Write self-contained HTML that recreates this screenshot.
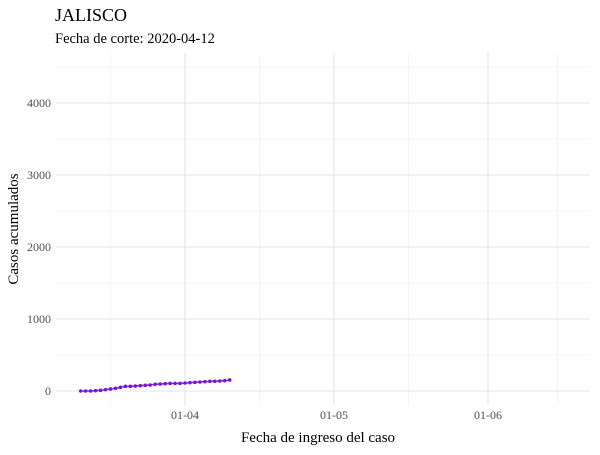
<!DOCTYPE html>
<html><head><meta charset="utf-8"><style>
body{margin:0;background:#fff;}
svg text{font-family:"Liberation Serif",serif;}
</style></head><body>
<svg width="600" height="450" xmlns="http://www.w3.org/2000/svg">
<text x="55" y="21" font-size="18" fill="#000">JALISCO</text>
<text x="55" y="43" font-size="14.5" fill="#000">Fecha de corte: 2020-04-12</text>
<g id="grid"></g>
<g id="yticks"></g>
<g id="xticks"></g>
<g id="series"></g>
<text x="318" y="442" font-size="15" text-anchor="middle">Fecha de ingreso del caso</text>
<text transform="translate(18,229) rotate(-90)" font-size="15" text-anchor="middle">Casos acumulados</text>
</svg>
<script>
const startDay = -21; // days relative to 2020-04-01 (Mar 11)
const values = [0,0,0,5,9,19,28,37,51,65,65,69,74,79,83,93,97,102,106,106,106,111,116,120,125,130,134,134,139,143,153];
const yTicks = [0,1000,2000,3000,4000];
const yMinor = [500,1500,2500,3500,4500];
const xTickDays = [0,30,61];
const xTickLabels = ["01-04","01-05","01-06"];
const xMinorDays = [-15,15,45,75];
const NS="http://www.w3.org/2000/svg";
const X0=56,X1=590,Y0=53,Y1=405;
function x(d){return 185+d*(488-185)/61;}
function y(v){return 391-v*0.072;}
function mk(tag,attrs,parent){const e=document.createElementNS(NS,tag);for(const k in attrs)e.setAttribute(k,attrs[k]);document.getElementById(parent).appendChild(e);return e;}
yMinor.forEach(v=>{const l=mk('line',{x1:X0,x2:X1,y1:y(v),y2:y(v),stroke:'#ececec','stroke-width':0.6},'grid');

});
xMinorDays.forEach(d=>{const l=mk('line',{x1:x(d),x2:x(d),y1:Y0,y2:Y1,stroke:'#ececec','stroke-width':0.6},'grid');

});
yTicks.forEach(v=>{const l=mk('line',{x1:X0,x2:X1,y1:y(v),y2:y(v),stroke:'#e3e3e3','stroke-width':1.1},'grid');


const t=mk('text',{x:51,y:y(v)+4,'font-size':12,'text-anchor':'end',fill:'#4d4d4d'},'yticks');t.textContent=v;

});
xTickDays.forEach((d,i)=>{const l=mk('line',{x1:x(d),x2:x(d),y1:Y0,y2:Y1,stroke:'#e3e3e3','stroke-width':1.1},'grid');


const t=mk('text',{x:x(d),y:419,'font-size':12,'text-anchor':'middle',fill:'#4d4d4d'},'xticks');t.textContent=xTickLabels[i];

});
const pts=values.map((v,i)=>x(startDay+i)+','+y(v)).join(' ');
const pl=mk('polyline',{points:pts,fill:'none',stroke:'#8a2be2','stroke-width':1.6},'series');


values.forEach((v,i)=>{const c=mk('circle',{cx:x(startDay+i),cy:y(v),r:1.8,fill:'#7b16d0'},'series');

});
</script>
</body></html>
